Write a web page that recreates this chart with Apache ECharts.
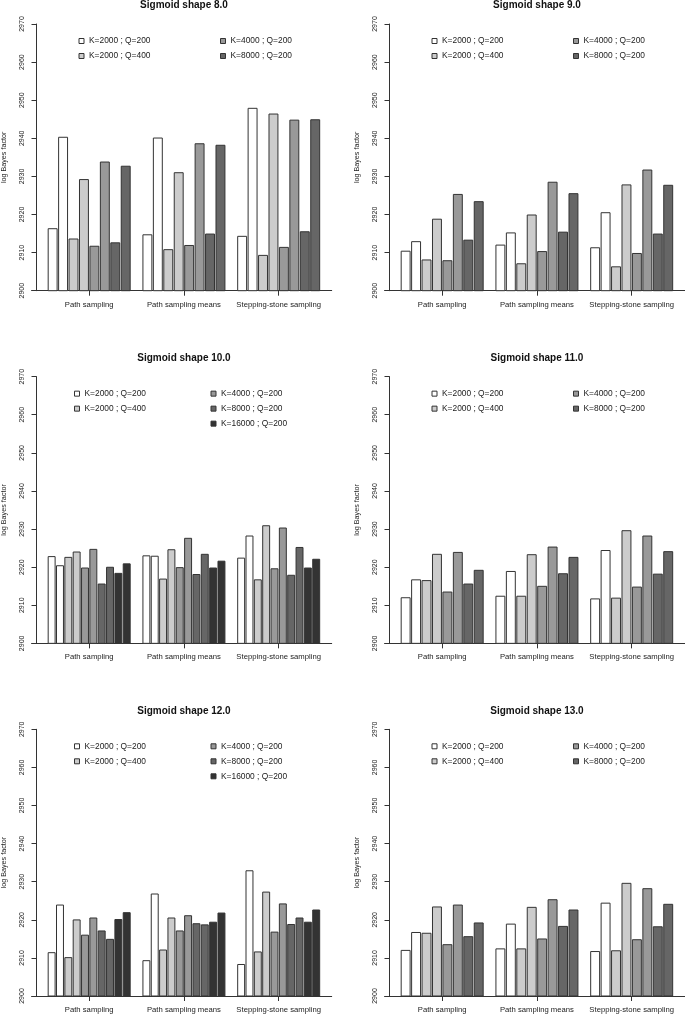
<!DOCTYPE html>
<html>
<head>
<meta charset="utf-8">
<script src="https://cdn.jsdelivr.net/npm/echarts@6/dist/echarts.min.js"></script>
<style>
  html, body { margin: 0; padding: 0; background: #ffffff; }
  #chart { width: 685px; height: 1015px; }
</style>
</head>
<body>
<div id="chart"></div>
<script>
// ---------------- data ----------------
const CATEGORIES = ['Path sampling', 'Path sampling means', 'Stepping-stone sampling'];
const SERIES_NAMES = ['K=2000 ; Q=200', 'K=2000 ; Q=400', 'K=4000 ; Q=200', 'K=8000 ; Q=200', 'K=16000 ; Q=200'];
const PANEL_TITLES = ['Sigmoid shape 8.0', 'Sigmoid shape 9.0', 'Sigmoid shape 10.0', 'Sigmoid shape 11.0', 'Sigmoid shape 12.0', 'Sigmoid shape 13.0'];
const Y_MIN = 2900, Y_MAX = 2970, Y_STEP = 10;

// bar heights per category in drawing order: each configuration has two bars
const s8_path   = [2916.4, 2940.4, 2913.7, 2929.3, 2911.8, 2933.9, 2912.7, 2932.8];
const s8_means  = [2914.8, 2940.2, 2910.9, 2931.1, 2912.0, 2938.7, 2915.0, 2938.3];
const s8_stone  = [2914.4, 2948.0, 2909.4, 2946.5, 2911.5, 2944.9, 2915.6, 2945.0];

const s9_path   = [2910.5, 2913.0, 2908.2, 2918.9, 2908.0, 2925.4, 2913.4, 2923.5];
const s9_means  = [2912.1, 2915.3, 2907.2, 2920.0, 2910.4, 2928.6, 2915.5, 2925.6];
const s9_stone  = [2911.4, 2920.6, 2906.4, 2927.9, 2909.9, 2931.8, 2915.0, 2927.8];

const s10_path  = [2922.9, 2920.5, 2922.7, 2924.1, 2919.9, 2924.8, 2915.7, 2920.1, 2918.5, 2921.0];
const s10_means = [2923.1, 2923.0, 2917.0, 2924.7, 2920.0, 2927.7, 2918.2, 2923.5, 2919.9, 2921.7];
const s10_stone = [2922.5, 2928.3, 2916.8, 2931.0, 2919.7, 2930.4, 2918.0, 2925.3, 2919.9, 2922.2];

const s11_path  = [2912.1, 2916.8, 2916.6, 2923.5, 2913.6, 2924.0, 2915.7, 2919.3];
const s11_means = [2912.5, 2919.0, 2912.5, 2923.4, 2915.1, 2925.4, 2918.4, 2922.7];
const s11_stone = [2911.8, 2924.5, 2912.0, 2929.7, 2914.9, 2928.3, 2918.3, 2924.2];

const s12_path  = [2911.5, 2924.0, 2910.2, 2920.1, 2916.1, 2920.6, 2917.2, 2915.0, 2920.2, 2922.0];
const s12_means = [2909.4, 2926.9, 2912.2, 2920.6, 2917.2, 2921.2, 2919.1, 2918.8, 2919.5, 2921.9];
const s12_stone = [2908.4, 2933.0, 2911.7, 2927.4, 2916.9, 2924.3, 2918.9, 2920.6, 2919.5, 2922.7];

const s13_path  = [2912.1, 2916.8, 2916.6, 2923.5, 2913.6, 2924.0, 2915.7, 2919.3];
const s13_means = [2912.5, 2919.0, 2912.5, 2923.4, 2915.1, 2925.4, 2918.4, 2922.7];
const s13_stone = [2911.8, 2924.5, 2912.0, 2929.7, 2914.9, 2928.3, 2918.3, 2924.2];

// ---------------- styling / layout ----------------
const COLORS = ['#ffffff', '#cccccc', '#999999', '#666666', '#333333'];
const FONT = 'Liberation Sans, Arial, Helvetica, sans-serif';
const TEXT = '#222222';
const LINE = '#333333';

const panelData = [
  [s8_path, s8_means, s8_stone],
  [s9_path, s9_means, s9_stone],
  [s10_path, s10_means, s10_stone],
  [s11_path, s11_means, s11_stone],
  [s12_path, s12_means, s12_stone],
  [s13_path, s13_means, s13_stone]
];

const COL_X = [0, 353];
const ROW_Y = [0, 352.65, 705.3];
const AXIS_TOP = 24, AXIS_H = 266.7;

const grid = [], xAxis = [], yAxis = [], series = [], title = [], legend = [];

panelData.forEach((groups, i) => {
  const r = Math.floor(i / 2), c = i % 2;
  const ox = COL_X[c], oy = ROW_Y[r];
  const top = AXIS_TOP + oy;
  const nBars = groups[0].length;
  const nCfg = nBars / 2;

  // main plotting grid
  grid.push({ left: 41.8 + ox, top: top, width: 284.25, height: AXIS_H, containLabel: false });
  xAxis.push({
    type: 'category', gridIndex: i, data: CATEGORIES,
    axisLine: { show: false },
    axisTick: { show: true, alignWithLabel: true, length: 5, lineStyle: { color: LINE, width: 1 } },
    axisLabel: { interval: 0, margin: 10, fontSize: 7.7, color: TEXT, fontFamily: FONT },
    splitLine: { show: false }
  });
  yAxis.push({
    type: 'value', gridIndex: i, min: Y_MIN, max: Y_MAX, interval: Y_STEP, offset: 5.3,
    name: 'log Bayes factor', nameLocation: 'middle', nameGap: 28.5,
    nameTextStyle: { fontSize: 7.2, color: TEXT, fontFamily: FONT },
    axisLine: { show: true, lineStyle: { color: LINE, width: 1 } },
    axisTick: { show: true, length: 5, lineStyle: { color: LINE, width: 1 } },
    axisLabel: { rotate: 90, margin: 10.5, fontSize: 7, color: TEXT, fontFamily: FONT,
                 formatter: v => String(v) },
    splitLine: { show: false }
  });

  for (let j = 0; j < nBars; j++) {
    const cfg = Math.floor(j / 2);
    series.push({
      type: 'bar', name: SERIES_NAMES[cfg], xAxisIndex: i, yAxisIndex: i,
      data: groups.map(g => g[j]),
      itemStyle: { color: COLORS[cfg], borderColor: LINE, borderWidth: 1 },
      barGap: '5%', barCategoryGap: '12.4%',
      silent: true, animation: false
    });
  }

  title.push({
    text: PANEL_TITLES[i], left: 184 + ox, top: top - 24.5, textAlign: 'center', padding: 0,
    textStyle: { fontSize: 10, fontWeight: 'bold', color: '#111', fontFamily: FONT, lineHeight: 12 }
  });

  const five = nCfg === 5;
  const legendCommon = {
    orient: 'vertical', top: top + 12, padding: 0, itemGap: 5,
    itemWidth: 5, itemHeight: 5, icon: 'rect', selectedMode: false,
    itemStyle: { borderColor: LINE, borderWidth: 1 },
    textStyle: { fontSize: 8.4, color: TEXT, fontFamily: FONT, lineHeight: 10, padding: [0, 0, 0, 0] }
  };
  legend.push(Object.assign({}, legendCommon, {
    left: (five ? 74 : 78.5) + ox,
    data: SERIES_NAMES.slice(0, 2)
  }));
  legend.push(Object.assign({}, legendCommon, {
    left: (five ? 210.5 : 220) + ox,
    data: SERIES_NAMES.slice(2, nCfg)
  }));
});

// frame grids: baseline spanning the whole plot region
panelData.forEach((groups, i) => {
  const r = Math.floor(i / 2), c = i % 2;
  const ox = COL_X[c], oy = ROW_Y[r];
  const gi = grid.length;
  grid.push({ left: 31.7 + ox, top: AXIS_TOP + oy, width: 300, height: AXIS_H, containLabel: false });
  xAxis.push({
    type: 'value', gridIndex: gi, min: 0, max: 1,
    axisLine: { show: true, lineStyle: { color: LINE, width: 1 } },
    axisTick: { show: false }, axisLabel: { show: false }, splitLine: { show: false }
  });
  yAxis.push({ type: 'value', gridIndex: gi, min: 0, max: 1, show: false });
});

const chart = echarts.init(document.getElementById('chart'), null, { renderer: 'canvas' });
chart.setOption({
  backgroundColor: '#ffffff',
  animation: false,
  title: title,
  legend: legend,
  grid: grid,
  xAxis: xAxis,
  yAxis: yAxis,
  series: series
});
</script>
</body>
</html>
